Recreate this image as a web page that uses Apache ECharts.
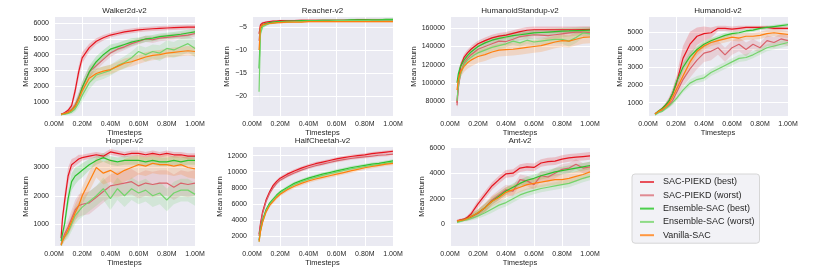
<!DOCTYPE html>
<html><head><meta charset="utf-8">
<script src="https://cdn.jsdelivr.net/npm/echarts@6/dist/echarts.min.js"></script>
<style>html,body{margin:0;padding:0;background:#fff}#c{width:830px;height:277px}</style>
</head><body><div id="c"></div><script>
// ---------------- DATA ----------------
const methods = ['SAC-PIEKD (best)', 'SAC-PIEKD (worst)', 'Ensemble-SAC (best)', 'Ensemble-SAC (worst)', 'Vanilla-SAC'];
const xs = [50000,60000,75000,100000,125000,150000,175000,200000,250000,300000,350000,400000,450000,500000,550000,600000,650000,700000,750000,800000,850000,900000,950000,1000000];
const xTickValues = [0,200000,400000,600000,800000,1000000];
const xTickLabels = ['0.00M','0.20M','0.40M','0.60M','0.80M','1.00M'];

// Walker2d-v2
const walkerTicks = [1000,2000,3000,4000,5000,6000];
const walkerPB   = [200,230,300,450,750,1700,2900,3800,4450,4850,5080,5250,5350,5450,5520,5580,5620,5650,5680,5700,5720,5740,5760,5750];
const walkerPBsd = [50,50,60,100,200,350,400,350,250,200,180,150,150,150,150,150,150,150,150,150,150,150,150,150];
const walkerPW   = [200,220,260,350,500,800,1300,1900,2900,3300,3700,4100,4350,4500,4700,4850,5000,4950,5050,5100,5150,5200,5250,5350];
const walkerPWsd = [50,50,50,80,150,250,300,350,350,300,250,250,250,200,200,200,200,200,200,200,200,200,200,200];
const walkerEB   = [180,200,230,300,450,700,1200,1900,2900,3550,4000,4350,4500,4650,4800,4900,5000,5050,5150,5200,5250,5300,5380,5450];
const walkerEBsd = [50,50,50,80,150,250,350,400,400,350,300,300,250,250,250,200,200,200,200,200,200,200,200,200];
const walkerEW   = [170,180,200,250,350,550,900,1400,2200,2700,2850,3000,3300,3500,3800,4200,4000,4200,4100,4400,4300,4500,4700,4400];
const walkerEWsd = [50,50,50,80,150,200,300,350,400,400,400,350,350,400,400,400,450,450,500,500,500,550,550,550];
const walkerV    = [190,210,250,320,450,700,1150,1700,2500,2800,2950,3050,3250,3450,3550,3700,3850,3950,4000,4100,4150,4200,4250,4200];
const walkerVsd  = [50,50,50,80,150,200,250,300,300,300,300,300,300,300,300,300,300,300,300,300,300,300,300,300];

// Reacher-v2
const reacherTicks = [-20,-15,-10,-5];
const reacherPB   = [-6.5,-4.6,-4.2,-4.0,-3.9,-3.8,-3.8,-3.7,-3.7,-3.7,-3.6,-3.6,-3.6,-3.6,-3.6,-3.6,-3.6,-3.6,-3.5,-3.5,-3.5,-3.5,-3.5,-3.5];
const reacherPBsd = [1.0,0.4,0.3,0.2,0.2,0.2,0.2,0.2,0.2,0.2,0.2,0.2,0.2,0.2,0.2,0.2,0.2,0.2,0.2,0.2,0.2,0.2,0.2,0.2];
const reacherPW   = [-8,-5.0,-4.5,-4.2,-4.1,-4.0,-3.9,-3.9,-3.8,-3.8,-3.8,-3.8,-3.8,-3.8,-3.8,-3.8,-3.7,-3.7,-3.7,-3.7,-3.7,-3.7,-3.7,-3.7];
const reacherPWsd = [1.5,0.5,0.3,0.2,0.2,0.2,0.2,0.2,0.2,0.2,0.2,0.2,0.2,0.2,0.2,0.2,0.2,0.2,0.2,0.2,0.2,0.2,0.2,0.2];
const reacherEB   = [-14,-5.5,-4.6,-4.3,-4.1,-4.0,-3.9,-3.9,-3.8,-3.8,-3.7,-3.7,-3.7,-3.6,-3.6,-3.6,-3.6,-3.5,-3.5,-3.5,-3.5,-3.5,-3.4,-3.4];
const reacherEBsd = [3,0.8,0.4,0.3,0.2,0.2,0.2,0.2,0.2,0.2,0.2,0.2,0.2,0.2,0.2,0.2,0.2,0.2,0.2,0.2,0.2,0.2,0.2,0.2];
const reacherEW   = [-19,-6.5,-5.0,-4.6,-4.3,-4.2,-4.1,-4.0,-4.0,-3.9,-3.9,-3.8,-3.8,-3.8,-3.8,-3.7,-3.7,-3.7,-3.7,-3.7,-3.6,-3.6,-3.6,-3.6];
const reacherEWsd = [3,1,0.5,0.3,0.2,0.2,0.2,0.2,0.2,0.2,0.2,0.2,0.2,0.2,0.2,0.2,0.2,0.2,0.2,0.2,0.2,0.2,0.2,0.2];
const reacherV    = [-10,-5.2,-4.6,-4.4,-4.3,-4.2,-4.1,-4.1,-4.0,-4.0,-4.0,-3.9,-3.9,-3.9,-3.9,-3.9,-3.9,-3.9,-3.9,-3.9,-3.9,-3.9,-3.9,-3.9];
const reacherVsd  = [2,0.6,0.3,0.2,0.2,0.2,0.2,0.2,0.2,0.2,0.2,0.2,0.2,0.2,0.2,0.2,0.2,0.2,0.2,0.2,0.2,0.2,0.2,0.2];

// HumanoidStandup-v2
const standupTicks = [80000,100000,120000,140000,160000];
const standupPB   = [78000,100000,118000,128000,133000,137000,140000,143000,146500,149500,151500,152500,154500,156500,158000,158500,158500,158500,158500,158500,158500,158500,158800,159000];
const standupPBsd = [5000,5000,4000,3500,3500,3500,3500,3500,3500,3500,3500,3500,3500,3500,3500,3500,3500,3500,3500,3500,3500,3500,3500,3500];
const standupPW   = [75000,95000,110000,122000,127000,131000,134000,137000,140000,143000,146000,145500,148000,151000,152000,153000,152500,152000,153000,154000,155000,156000,156000,155000];
const standupPWsd = [5000,5000,4500,4000,4000,4000,4000,4000,4000,4000,4000,4000,4000,4000,4000,4000,4000,4000,4000,4000,4000,4000,4000,4000];
const standupEB   = [100000,110000,118000,125000,130000,134000,137000,140000,144000,147000,149000,150500,152000,153000,154000,155000,155500,156000,156500,157000,157200,157500,157800,158000];
const standupEBsd = [4000,4000,4000,3500,3500,3500,3500,3500,3500,3500,3500,3500,3500,3500,3500,3500,3500,3500,3500,3500,3500,3500,3500,3500];
const standupEW   = [80000,98000,110000,120000,125000,128000,131000,133000,136000,139000,141000,143000,146000,144000,147000,145000,146000,147000,148000,148000,146000,150000,155000,154000];
const standupEWsd = [5000,5000,4500,4000,4000,4000,4000,4000,4000,4000,4000,4000,4000,4000,4000,4000,4000,4000,4500,5000,6000,6000,5000,4000];
const standupV    = [92000,104000,112000,118000,122000,125000,127000,129000,131000,134000,136000,136500,137000,138000,139000,140000,141000,143000,145000,146500,146000,148000,150000,150500];
const standupVsd  = [6000,6000,6000,6000,6500,7000,7000,7000,7000,7000,7000,7000,7000,7000,7000,7000,7000,7000,7000,7000,7000,7000,7000,7000];

// Humanoid-v2
const humanoidTicks = [1000,2000,3000,4000,5000];
const humanoidPB   = [350,420,500,650,850,1100,1500,2000,3500,4300,4750,4900,4950,5200,5200,5150,5200,5250,5250,5250,5250,5200,5200,5200];
const humanoidPBsd = [50,50,60,80,120,200,300,400,700,700,500,400,300,150,150,150,150,100,100,100,100,100,100,100];
const humanoidPW   = [350,400,470,550,700,850,1100,1500,2300,2900,3400,3800,3900,4100,3700,4100,4300,4000,4300,4100,4500,4400,4600,4500];
const humanoidPWsd = [50,50,60,80,100,150,200,300,400,500,500,500,500,400,400,400,400,400,300,300,300,300,300,300];
const humanoidEB   = [350,430,520,650,850,1100,1500,2100,3000,3600,4000,4300,4500,4650,4800,4900,4950,5050,5100,5200,5250,5300,5350,5400];
const humanoidEBsd = [50,50,60,80,100,150,200,250,250,250,200,200,150,150,150,100,100,100,100,100,100,100,100,100];
const humanoidEW   = [300,350,420,500,650,800,1000,1200,1700,2100,2300,2400,2700,2900,3100,3300,3500,3550,3700,3900,4100,4200,4300,4400];
const humanoidEWsd = [50,50,50,60,80,100,150,150,150,200,200,200,200,200,200,200,200,200,200,200,200,200,200,200];
const humanoidV    = [350,420,500,600,750,950,1300,1700,2500,3300,3900,4200,4400,4500,4600,4700,4650,4750,4750,4800,4900,4950,4900,4850];
const humanoidVsd  = [50,50,60,80,100,150,200,250,300,300,250,200,200,200,200,200,200,200,200,200,200,200,200,200];

// Hopper-v2
const hopperTicks = [1000,2000,3000];
const hopperPB   = [500,1200,1800,2700,3100,3200,3300,3350,3400,3450,3400,3550,3500,3450,3500,3500,3450,3500,3450,3500,3450,3450,3400,3400];
const hopperPBsd = [100,200,300,300,200,150,150,100,100,100,100,100,100,100,100,100,100,100,100,100,100,100,100,100];
const hopperPW   = [300,450,650,900,1200,1500,1650,1700,1750,1950,2150,2350,2400,2450,2500,2350,2450,2400,2450,2450,2300,2450,2400,2450];
const hopperPWsd = [100,150,200,250,300,350,400,400,400,400,400,400,450,450,450,450,450,450,450,450,450,450,450,450];
const hopperEB   = [400,650,1000,1900,2500,2700,2800,2900,3100,3250,3350,3250,3200,3250,3250,3250,3200,3250,3200,3200,3250,3200,3250,3250];
const hopperEBsd = [100,150,200,300,300,300,250,250,200,150,150,150,150,150,150,150,150,150,150,150,150,150,150,150];
const hopperEW   = [250,400,550,700,1000,1300,1450,1600,1800,2000,2250,1900,2250,2000,2250,2100,2200,2000,2100,1850,2100,2200,2200,2050];
const hopperEWsd = [100,150,150,200,250,300,300,350,350,350,400,400,400,400,400,400,400,400,400,400,400,400,400,400];
const hopperV    = [250,400,550,800,1100,1400,1650,2000,2500,3000,2800,2900,2750,2900,3000,3100,3050,3150,3100,3100,3050,3100,3000,2950];
const hopperVsd  = [100,100,150,200,250,300,300,300,350,350,400,400,400,400,400,350,350,350,350,350,350,350,350,350];

// HalfCheetah-v2
const cheetahTicks = [2000,4000,6000,8000,10000,12000];
const cheetahPB   = [2200,3500,5000,6500,7500,8300,8800,9200,9700,10100,10450,10750,11000,11200,11400,11600,11750,11900,12000,12100,12250,12350,12450,12550];
const cheetahPBsd = [200,200,200,200,200,200,200,200,200,200,200,200,200,200,200,200,200,200,200,200,200,200,200,200];
const cheetahPW   = [2000,3300,4800,6300,7300,8000,8550,8950,9450,9850,10200,10500,10750,10950,11150,11350,11500,11650,11750,11850,11950,12050,12100,12200];
const cheetahPWsd = [200,200,200,200,200,200,200,200,200,200,200,200,200,200,200,200,200,200,200,200,200,200,200,200];
const cheetahEB   = [1500,2800,4000,5300,6100,6600,7100,7500,8050,8550,8900,9200,9450,9700,9900,10100,10300,10500,10650,10800,10950,11050,11200,11350];
const cheetahEBsd = [200,200,200,200,200,200,200,200,200,200,200,200,200,200,200,200,200,200,200,200,200,200,200,200];
const cheetahEW   = [1300,2600,3800,5100,5900,6450,6950,7350,7900,8400,8750,9050,9300,9550,9750,9950,10150,10350,10500,10650,10800,10900,11050,11200];
const cheetahEWsd = [200,200,200,200,200,200,200,200,200,200,200,200,200,200,200,200,200,200,200,200,200,200,200,200];
const cheetahV    = [1300,2500,3700,5000,5800,6300,6800,7200,7750,8200,8550,8850,9100,9300,9500,9700,9900,10100,10300,10500,10650,10800,10950,11050];
const cheetahVsd  = [200,200,250,250,250,250,250,250,250,250,250,250,250,250,250,250,250,250,250,250,250,250,250,250];

// Ant-v2
const antTicks = [0,2000,4000,6000];
const antPB   = [250,300,350,400,550,800,1200,1600,2300,3000,3500,3950,4000,4400,4500,4450,4800,4900,4950,5100,5200,5250,5300,5350];
const antPBsd = [100,100,100,100,150,200,250,300,300,300,300,300,300,300,300,300,300,300,300,300,300,300,300,300];
const antPW   = [250,280,300,350,450,550,700,850,1300,1900,2300,2700,2600,3500,3400,3100,3800,3700,4000,4300,4400,4700,4400,4500];
const antPWsd = [100,100,100,100,150,200,250,300,350,350,400,400,400,400,400,400,400,400,400,400,400,400,400,400];
const antEB   = [200,230,280,350,450,600,750,900,1300,1800,2200,2600,2900,3200,3450,3600,3800,3950,4100,4200,4300,4400,4500,4600];
const antEBsd = [100,100,100,100,150,200,250,250,300,300,300,300,300,300,300,300,300,300,300,300,300,300,300,300];
const antEW   = [150,180,220,300,380,450,550,650,900,1200,1500,1700,2000,2300,2500,2650,2800,2900,3000,3100,3200,3400,3600,3750];
const antEWsd = [100,100,100,100,150,150,200,200,250,300,300,300,300,300,300,300,300,300,300,300,300,300,300,300];
const antV    = [250,270,300,350,450,600,750,900,1300,1800,2100,2500,2700,2900,3100,3200,3300,3400,3500,3500,3600,3750,3900,4100];
const antVsd  = [100,100,100,100,150,200,250,300,350,400,400,400,400,400,400,400,400,400,400,400,400,400,400,400];

// ---------------- CHART ----------------
const colors = ['#e6141f', '#d9626b', '#2dc12d', '#74d46c', '#ff7f0e'];
const legendColors = ['#e8505a', '#e08a92', '#4ccf4c', '#8edb86', '#ff9740'];
const FONT = 'Liberation Sans, Arial, sans-serif';
const TXT = '#262626';

const plots = [
  {title:'Walker2d-v2', ticks:walkerTicks, yMin:90, yMax:6400, means:[walkerPB,walkerPW,walkerEB,walkerEW,walkerV], sds:[walkerPBsd,walkerPWsd,walkerEBsd,walkerEWsd,walkerVsd], left:54, top:17, width:141, nameGap:23},
  {title:'Reacher-v2', ticks:reacherTicks, yMin:-24.2, yMax:-2.9, means:[reacherPB,reacherPW,reacherEB,reacherEW,reacherV], sds:[reacherPBsd,reacherPWsd,reacherEBsd,reacherEWsd,reacherVsd], left:252, top:17, width:141, nameGap:17},
  {title:'HumanoidStandup-v2', ticks:standupTicks, yMin:63300, yMax:172600, means:[standupPB,standupPW,standupEB,standupEW,standupV], sds:[standupPBsd,standupPWsd,standupEBsd,standupEWsd,standupVsd], left:450, top:17, width:140, nameGap:32},
  {title:'Humanoid-v2', ticks:humanoidTicks, yMin:240, yMax:5840, means:[humanoidPB,humanoidPW,humanoidEB,humanoidEW,humanoidV], sds:[humanoidPBsd,humanoidPWsd,humanoidEBsd,humanoidEWsd,humanoidVsd], left:648, top:17, width:140, nameGap:23},
  {title:'Hopper-v2', ticks:hopperTicks, yMin:225, yMax:3725, means:[hopperPB,hopperPW,hopperEB,hopperEW,hopperV], sds:[hopperPBsd,hopperPWsd,hopperEBsd,hopperEWsd,hopperVsd], left:54, top:147, width:141, nameGap:23},
  {title:'HalfCheetah-v2', ticks:cheetahTicks, yMin:755, yMax:13080, means:[cheetahPB,cheetahPW,cheetahEB,cheetahEW,cheetahV], sds:[cheetahPBsd,cheetahPWsd,cheetahEBsd,cheetahEWsd,cheetahVsd], left:252, top:147, width:141, nameGap:28},
  {title:'Ant-v2', ticks:antTicks, yMin:-1700, yMax:6050, means:[antPB,antPW,antEB,antEW,antV], sds:[antPBsd,antPWsd,antEBsd,antEWsd,antVsd], left:450, top:147, width:140, nameGap:22}
];

const grid = [], xAxis = [], yAxis = [], title = [], series = [];
plots.forEach((p, i) => {
  grid.push({left:p.left, top:p.top, width:p.width, height:99, show:true, backgroundColor:'#eaeaf2', borderWidth:0});
  title.push({text:p.title, left:p.left + p.width/2, top:p.top - 10, textAlign:'center', padding:0,
    textStyle:{fontSize:8, fontWeight:'normal', color:TXT, fontFamily:FONT}});
  xAxis.push({type:'value', gridIndex:i, min:0, max:1000000, interval:200000,
    axisLine:{show:false}, axisTick:{show:false},
    axisLabel:{fontSize:7, color:TXT, fontFamily:FONT, margin:5, formatter:v => xTickLabels[xTickValues.indexOf(v)] || ''},
    splitLine:{show:true, lineStyle:{color:'#ffffff', width:1}},
    name:'Timesteps', nameLocation:'middle', nameGap:13, nameTextStyle:{fontSize:7.5, color:TXT, fontFamily:FONT}});
  yAxis.push({type:'value', gridIndex:i, min:p.yMin, max:p.yMax,
    axisLine:{show:false}, axisTick:{show:false, customValues:p.ticks},
    axisLabel:{customValues:p.ticks, fontSize:7, color:TXT, fontFamily:FONT, margin:5,
      formatter:v => v < 0 ? '\u2212' + Math.abs(v) : String(v)},
    splitLine:{show:true, lineStyle:{color:'#ffffff', width:1}},
    name:'Mean return', nameLocation:'middle', nameGap:p.nameGap, nameTextStyle:{fontSize:7.5, color:TXT, fontFamily:FONT}});
  p.means.forEach((m, k) => {
    const sd = p.sds[k];
    series.push({type:'custom', name:methods[k] + ' band', xAxisIndex:i, yAxisIndex:i, z:1, clip:true, silent:true,
      data: xs.map((x, j) => [x, m[j] - sd[j], m[j] + sd[j]]),
      encode:{x:0, y:[1,2]},
      renderItem:(params, api) => {
        if (params.dataIndex !== 0) return null;
        const pts = [];
        for (let j = 0; j < xs.length; j++) pts.push(api.coord([xs[j], m[j] - sd[j]]));
        for (let j = xs.length - 1; j >= 0; j--) pts.push(api.coord([xs[j], m[j] + sd[j]]));
        return {type:'polygon', shape:{points:pts}, style:{fill:colors[k], opacity:0.2}};
      }});
  });
  p.means.forEach((m, k) => {
    series.push({type:'line', name:methods[k], xAxisIndex:i, yAxisIndex:i, z:2, showSymbol:false, symbol:'none',
      data: xs.map((x, j) => [x, m[j]]),
      lineStyle:{color:colors[k], width:1.2}, itemStyle:{color:colors[k]}, clip:true});
  });
});

const chart = echarts.init(document.getElementById('c'), null, {renderer:'canvas'});
chart.setOption({
  animation:false,
  backgroundColor:'#ffffff',
  title, grid, xAxis, yAxis, series,
  legend:{orient:'vertical', left:632, top:174, icon:'rect', itemWidth:14, itemHeight:2, itemGap:3.3,
    padding:[3,5,3,8], backgroundColor:'#f2f2f6', borderColor:'#d6d6d6', borderWidth:1, borderRadius:3,
    textStyle:{fontSize:9, color:TXT, fontFamily:FONT, lineHeight:10, padding:[0,0,0,4]},
    data: methods.map((n, k) => ({name:n, itemStyle:{color:legendColors[k]}}))}
});
</script></body></html>
